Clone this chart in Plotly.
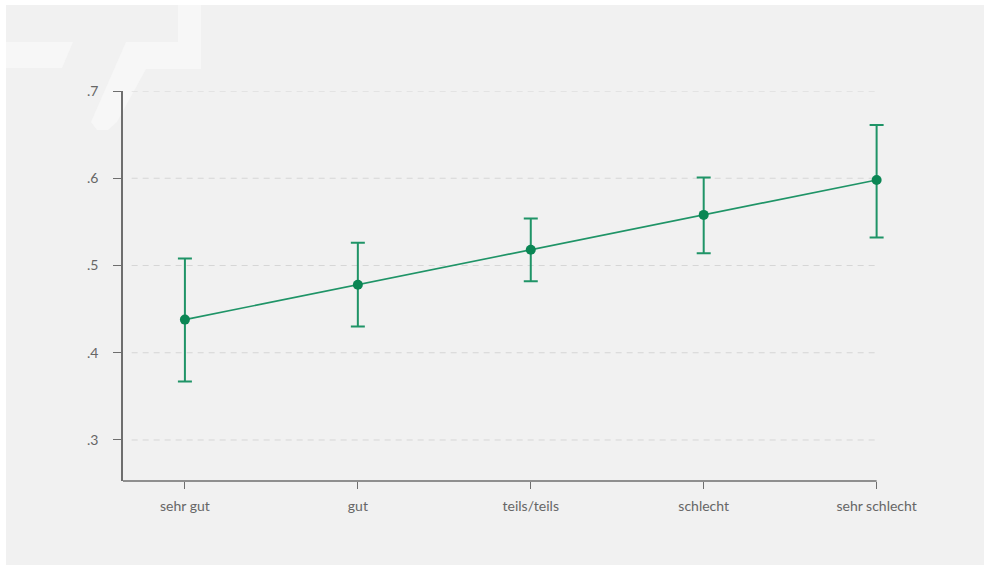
import plotly.graph_objects as go

# Self-rated health categories and predicted values with 95% confidence bounds
categories = ["sehr gut", "gut", "teils/teils", "schlecht", "sehr schlecht"]
estimate = [0.438, 0.478, 0.518, 0.558, 0.598]
ci_upper = [0.508, 0.526, 0.554, 0.601, 0.661]
ci_lower = [0.367, 0.430, 0.482, 0.514, 0.532]

y_ticks = [0.3, 0.4, 0.5, 0.6, 0.7]
y_tick_labels = [".3", ".4", ".5", ".6", ".7"]

W, H = 984, 570
X_MIN, X_MAX = -0.358, 4.0
X_PAD = 0.06  # room so the last error-bar cap is not clipped
L, T, B = 123, 91, 89
R = 107 - round(X_PAD / (X_MAX - X_MIN) * (984 - 123 - 107))

GREEN_LINE = "#1f9467"
GREEN_MARK = "#0a8654"
PANEL = "#f1f1f1"
MARK = "#f7f7f7"
AXIS = "#6e6e6e"

x_idx = list(range(len(categories)))
err_plus = [u - e for u, e in zip(ci_upper, estimate)]
err_minus = [e - l for e, l in zip(estimate, ci_lower)]

fig = go.Figure()
fig.add_trace(go.Scatter(
    x=x_idx,
    y=estimate,
    mode="lines+markers",
    line=dict(color=GREEN_LINE, width=1.7),
    marker=dict(color=GREEN_MARK, size=10),
    error_y=dict(
        type="data", symmetric=False,
        array=err_plus, arrayminus=err_minus,
        color=GREEN_LINE, thickness=2, width=7,
    ),
    cliponaxis=False,
    showlegend=False,
))


def px(x):
    return (x - L) / (W - L - R)


def py(y):
    return (H - B - y) / (H - T - B)


def path(points):
    return "M " + " L ".join(f"{px(a):.5f},{py(b):.5f}" for a, b in points) + " Z"


shapes = [
    # light panel behind everything
    dict(type="rect", xref="paper", yref="paper", layer="below",
         x0=px(6), x1=px(984), y0=py(565), y1=py(5),
         fillcolor=PANEL, line=dict(width=0)),
    # faint logo strokes in the upper-left corner
    dict(type="path", xref="paper", yref="paper", layer="below",
         path=path([(6, 42), (73, 42), (62, 68), (6, 68)]),
         fillcolor=MARK, line=dict(width=0)),
    dict(type="path", xref="paper", yref="paper", layer="below",
         path=path([(178, 5), (201, 5), (201, 69), (146, 69), (117, 122),
                    (108, 130), (97, 130), (91, 122), (126, 42), (178, 42)]),
         fillcolor=MARK, line=dict(width=0)),
]

# dashed horizontal guides ending at the last category
for v in y_ticks:
    shapes.append(dict(type="line", xref="x", yref="y", layer="below",
                       x0=X_MIN + 0.05, x1=X_MAX, y0=v, y1=v,
                       line=dict(color="#d6d6d6", width=1, dash="6px,5px")))

# x axis baseline from the y axis to the last category
shapes.append(dict(type="line", xref="x", yref="paper", layer="above",
                   x0=X_MIN, x1=X_MAX, y0=0, y1=0,
                   line=dict(color=AXIS, width=1.5)))

fig.update_layout(
    width=W, height=H,
    margin=dict(l=L, r=R, t=T, b=B),
    paper_bgcolor="white",
    plot_bgcolor="rgba(0,0,0,0)",
    font=dict(family="Lato, 'Source Sans Pro', sans-serif", size=14, color="#666666"),
    shapes=shapes,
    xaxis=dict(
        range=[X_MIN, X_MAX + X_PAD],
        tickmode="array", tickvals=x_idx, ticktext=categories,
        showgrid=False, zeroline=False, showline=False,
        ticks="outside", ticklen=7, tickwidth=1.2, tickcolor=AXIS,
        ticklabelstandoff=5,
    ),
    yaxis=dict(
        range=[0.253, 0.7],
        tickmode="array", tickvals=y_ticks, ticktext=y_tick_labels,
        showgrid=False, zeroline=False,
        showline=True, linecolor=AXIS, linewidth=1.5,
        ticks="outside", ticklen=8, tickwidth=1.2, tickcolor=AXIS,
        ticklabelstandoff=12,
    ),
)

fig.write_html("out.html")
